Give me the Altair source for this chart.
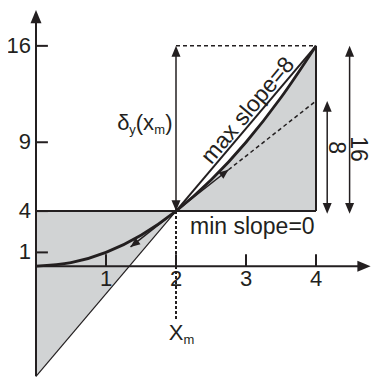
import altair as alt
import pandas as pd

# ---------------- data ----------------
curve_x = [0, 0.5, 1, 1.5, 2, 2.5, 3, 3.5, 4]
curve_y = [0, 0.25, 1, 2.25, 4, 6.25, 9, 12.25, 16]
x_ticks = [1, 2, 3, 4]
y_ticks = [1, 4, 9, 16]
x_m, y_m = 2, 4            # expansion point
y_top = 16                 # value at x = 4
tan_end = 12               # tangent (slope 4) value at x = 4
chord_low = -8             # slope-6 line at x = 0
tan_arrow_up = (2.75, 7.0)
tan_arrow_dn = (1.35, 1.4)
xm_dash_end = -3.95
dim8_x, dim16_x = 4.16, 4.48
label_min = ("min slope=0", 3.09, 2.85)
label_max = ("max slope=8", 3.03, 11.3)
label_8 = ("8", 4.29, 8.6)
label_16 = ("16", 4.605, 8.5)
delta_pos = (1.16, 9.87)
xm_label_y = -5.35
x_arrow_tip = 4.78
y_arrow_tip = 18.6

# ---------------- scales ----------------
W, H = 366, 369
XLO = -0.4
XHI = XLO + W / 70.0
YLO, YHI = -8.05, 18.75
xs = alt.Scale(domain=[XLO, XHI], nice=False, zero=False)
ys = alt.Scale(domain=[YLO, YHI], nice=False, zero=False)

INK = "#231f20"
GRAY = "#d1d3d4"
FONT = "Liberation Sans"


def X(f="x"):
    return alt.X(f"{f}:Q", scale=xs, axis=None)


def Y(f="y"):
    return alt.Y(f"{f}:Q", scale=ys, axis=None, stack=None)


def seg(rows, **kw):
    df = pd.DataFrame(rows, columns=["x", "y", "x2", "y2"])
    return alt.Chart(df).mark_rule(color=INK, **kw).encode(
        x=X(), y=Y(), x2="x2:Q", y2="y2:Q")


ARROW = "M0,0L-0.5,1.2L0.5,1.2Z"


def heads(pts, angle, size):
    df = pd.DataFrame(pts, columns=["x", "y"])
    return alt.Chart(df).mark_point(shape=ARROW, filled=True, color=INK,
                                    opacity=1, size=size, angle=angle,
                                    strokeWidth=0).encode(x=X(), y=Y())


def txt(rows, size=22, **kw):
    df = pd.DataFrame(rows, columns=["t", "x", "y"])
    return alt.Chart(df).mark_text(font=FONT, fontSize=size, color=INK, **kw).encode(
        x=X(), y=Y(), text="t:N")


# gray regions
left_df = pd.DataFrame({"x": [0, x_m], "y": [y_m, y_m], "y2": [chord_low, y_m]})
left_area = alt.Chart(left_df).mark_area(color=GRAY, opacity=1).encode(
    x=X(), y=Y(), y2="y2:Q")

rx = [v for v in curve_x if v >= x_m]
ry = [curve_y[curve_x.index(v)] for v in rx]
right_df = pd.DataFrame({"x": rx, "y": ry, "y2": [y_m] * len(rx)})
right_area = alt.Chart(right_df).mark_area(color=GRAY, opacity=1, interpolate="monotone").encode(
    x=X(), y=Y(), y2="y2:Q")

curve_df = pd.DataFrame({"x": curve_x, "y": curve_y})
curve = alt.Chart(curve_df).mark_line(color=INK, strokeWidth=2.8, interpolate="monotone").encode(
    x=X(), y=Y())

layers = [
    left_area,
    right_area,
    # axes
    seg([(0, chord_low, 0, y_arrow_tip - 0.6), (0, 0, x_arrow_tip - 0.1, 0)], strokeWidth=2),
    seg([(0, t, 0.17, t) for t in y_ticks], strokeWidth=2),
    seg([(t, 0, t, 0.87) for t in x_ticks], strokeWidth=2),
    # frame lines
    seg([(0, y_m, 4, y_m), (4, y_m, 4, y_top)], strokeWidth=2),
    # slope-6 line
    seg([(0, chord_low, x_m, y_m)], strokeWidth=1.2),
    seg([(x_m, y_m, 4, y_top)], strokeWidth=2),
    # tangent
    seg([(tan_arrow_dn[0], tan_arrow_dn[1], tan_arrow_up[0], tan_arrow_up[1])], strokeWidth=1.5),
    seg([(tan_arrow_up[0], tan_arrow_up[1], 4, tan_end)], strokeWidth=1.5, strokeDash=[4, 3]),
    # dashed guides
    seg([(x_m, y_m, x_m, xm_dash_end)], strokeWidth=2, strokeDash=[3, 2]),
    seg([(x_m, y_top, 4, y_top)], strokeWidth=1.5, strokeDash=[4, 3]),
    # dimension arrows
    seg([(x_m, y_m, x_m, y_top - 0.5), (dim8_x, y_m, dim8_x, tan_end - 0.5),
         (dim16_x, y_m, dim16_x, y_top - 0.5)], strokeWidth=1.5),
    curve,
    heads([(0, y_arrow_tip)], 0, 484),
    heads([(x_arrow_tip, 0)], 90, 484),
    heads([(x_m, y_top), (dim8_x, tan_end), (dim16_x, y_top)], 0, 324),
    heads([(x_m, y_m), (dim8_x, 3.8), (dim16_x, 3.8)], 180, 324),
    heads([tan_arrow_up], 52, 256),
    heads([tan_arrow_dn], 232, 256),
    # tick labels
    txt([(str(t), 0, t) for t in y_ticks], align="right", baseline="middle", dx=-5),
    txt([(str(t), t, 0) for t in x_ticks], align="center", baseline="top", dy=3),
    # annotations
    txt([label_min], size=23, align="center", baseline="middle"),
    txt([label_max], size=23, align="center", baseline="middle", angle=310),
    txt([label_8, label_16], size=23, align="center", baseline="middle", angle=90),
    # delta_y(x_m)
    txt([("δ", delta_pos[0], delta_pos[1])], align="left", baseline="alphabetic"),
    txt([("y", delta_pos[0], delta_pos[1])], size=13, align="left", baseline="alphabetic", dx=12, dy=4),
    txt([("(x", delta_pos[0], delta_pos[1])], align="left", baseline="alphabetic", dx=18.5),
    txt([("m", delta_pos[0], delta_pos[1])], size=13, align="left", baseline="alphabetic", dx=37, dy=4),
    txt([(")", delta_pos[0], delta_pos[1])], align="left", baseline="alphabetic", dx=48),
    # X_m
    txt([("X", x_m, xm_label_y)], align="center", baseline="alphabetic"),
    txt([("m", x_m, xm_label_y)], size=13, align="left", baseline="alphabetic", dx=7.5, dy=4),
]

chart = alt.layer(*layers).properties(
    width=W, height=H, padding=0,
    autosize=alt.AutoSizeParams(type="none"),
).configure_view(strokeWidth=0)

chart.save("out.html", embed_options={"renderer": "svg", "actions": False})
